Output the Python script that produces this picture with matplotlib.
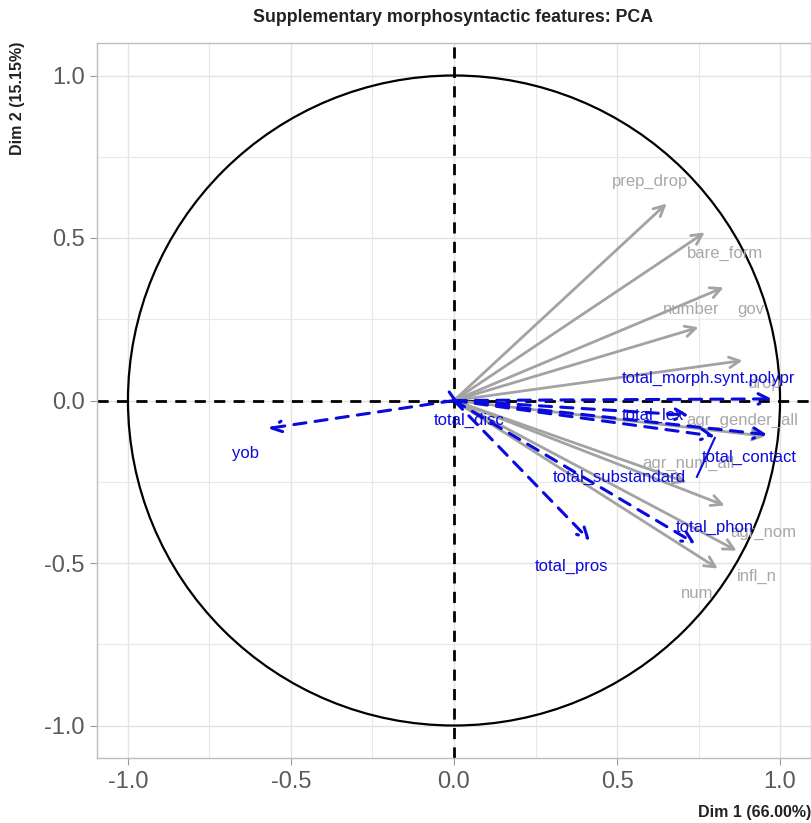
import numpy as np
import matplotlib
matplotlib.use("Agg")
import matplotlib.pyplot as plt
from matplotlib.patches import Circle

plt.rcParams['font.family'] = ['Liberation Sans', 'DejaVu Sans']

# active variables (grey): arrow tip and label position
act_names = ["prep_drop", "bare_form", "gov", "number", "drop",
             "agr_gender_all", "agr_num_all", "agr_nom", "infl_n", "num"]
act_x = [0.652, 0.769, 0.827, 0.750, 0.885, 0.955, 0.714, 0.830, 0.867, 0.809]
act_y = [0.606, 0.517, 0.348, 0.225, 0.123, -0.110, -0.252, -0.323, -0.462, -0.517]
act_lx = [0.600, 0.830, 0.910, 0.729, 0.950, 0.885, 0.720, 0.950, 0.930, 0.745]
act_ly = [0.674, 0.452, 0.280, 0.280, 0.053, -0.060, -0.195, -0.405, -0.540, -0.593]

# supplementary variables (blue, dashed)
sup_names = ["total_morph.synt.polypr", "total_lex", "total_contact",
             "total_substandard", "total_disc", "total_phon", "total_pros", "yob"]
sup_x = [0.975, 0.720, 0.960, 0.800, 0.015, 0.740, 0.417, -0.570]
sup_y = [0.005, -0.045, -0.105, -0.110, -0.008, -0.440, -0.431, -0.086]
sup_lx = [0.780, 0.610, 0.905, 0.508, 0.045, 0.800, 0.361, -0.640]
sup_ly = [0.068, -0.045, -0.175, -0.237, -0.062, -0.390, -0.510, -0.163]

grey = "#A3A3A3"
blue = "#0a0adc"

fig = plt.figure(figsize=(8.11, 8.23), dpi=100)
ax = fig.add_axes([97/811, 1-758/823, 714/811, 715/823])
ax.set_xlim(-1.095, 1.095)
ax.set_ylim(-1.1, 1.1)

ticks = [-1.0, -0.5, 0.0, 0.5, 1.0]
ax.set_xticks(ticks)
ax.set_yticks(ticks)
ax.set_xticks([-0.75, -0.25, 0.25, 0.75], minor=True)
ax.set_yticks([-0.75, -0.25, 0.25, 0.75], minor=True)
ax.set_xticklabels(["-1.0", "-0.5", "0.0", "0.5", "1.0"])
ax.set_yticklabels(["-1.0", "-0.5", "0.0", "0.5", "1.0"])
ax.grid(which='major', color="#E3E3E3", lw=1.0)
ax.grid(which='minor', color="#E8E8E8", lw=0.8)
ax.set_axisbelow(True)
ax.tick_params(which='major', length=5, color="#999999", labelsize=17,
               labelcolor="#5a5a5a", pad=4)
ax.tick_params(which='minor', length=0)
for s in ax.spines.values():
    s.set_color("#BDBDBD")
    s.set_linewidth(1.0)

ax.add_patch(Circle((0, 0), 1.0, fill=False, color="black", lw=1.6, zorder=2))
ax.axhline(0, color="black", ls=(0, (4, 3)), lw=2.0, zorder=2)
ax.axvline(0, color="black", ls=(0, (4, 3)), lw=2.0, zorder=2)

for x, y in zip(act_x, act_y):
    ax.annotate("", xy=(x, y), xytext=(0, 0),
                arrowprops=dict(arrowstyle="->,head_length=0.75,head_width=0.38",
                                color=grey, lw=2.0, shrinkA=0, shrinkB=0),
                zorder=3)
for name, lx, ly in zip(act_names, act_lx, act_ly):
    ax.text(lx, ly, name, color="#A8A8A8", fontsize=12, ha="center",
            va="center", zorder=4)

for x, y in zip(sup_x, sup_y):
    ax.annotate("", xy=(x, y), xytext=(0, 0),
                arrowprops=dict(arrowstyle="->,head_length=0.75,head_width=0.38",
                                color=blue, lw=2.2, ls=(0, (4, 3)),
                                shrinkA=0, shrinkB=0),
                zorder=5)
# repel segment for total_substandard
ax.plot([0.745, 0.80], [-0.235, -0.115], color=blue, lw=1.5, zorder=5)
for name, lx, ly in zip(sup_names, sup_lx, sup_ly):
    ax.text(lx, ly, name, color=blue, fontsize=12, ha="center",
            va="center", zorder=6)

fig.text(453/811, 1-17/823, "Supplementary morphosyntactic features: PCA",
         ha="center", va="center", fontsize=12.8, fontweight="bold", color="#222222")
fig.text(1.0, 1-812/823, "Dim 1 (66.00%)", ha="right", va="center",
         fontsize=11.5, fontweight="bold", color="#222222")
fig.text(18/811, 1-42/823, "Dim 2 (15.15%)", ha="center", va="top",
         rotation=90, fontsize=11.5, fontweight="bold", color="#222222")

fig.savefig("out.png", dpi=100)
